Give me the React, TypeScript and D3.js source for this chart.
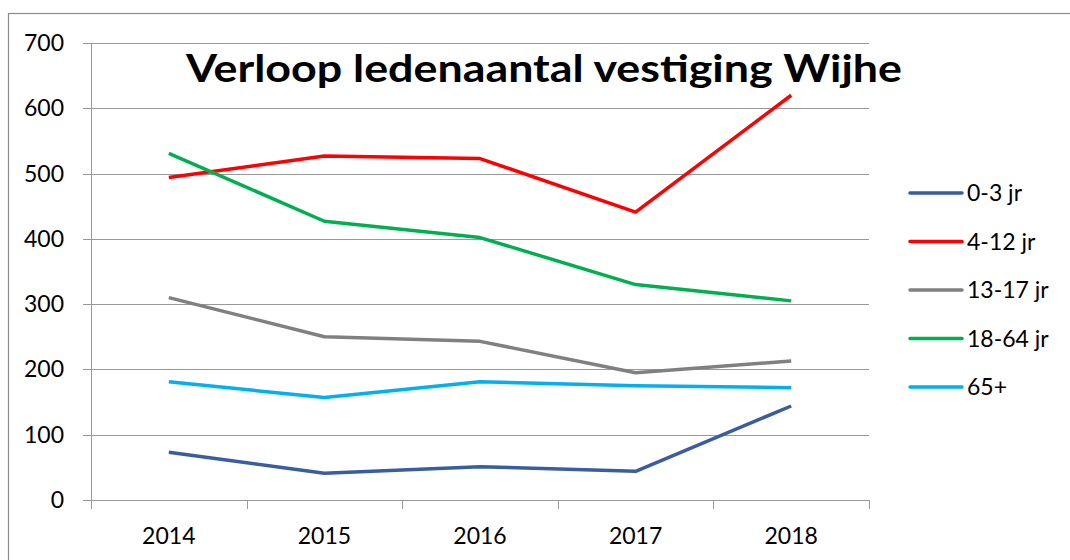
import React, { useEffect, useRef } from 'react';
import * as d3 from 'd3';

const years = ['2014', '2015', '2016', '2017', '2018'];
const yTicks = [0, 100, 200, 300, 400, 500, 600, 700];

const age0to3 = [73, 41, 51, 44, 144];
const age4to12 = [494, 527, 523, 441, 620];
const age13to17 = [310, 250, 243, 195, 213];
const age18to64 = [531, 427, 402, 330, 305];
const age65plus = [181, 157, 181, 175, 172];

const seriesNames = ['0-3 jr', '4-12 jr', '13-17 jr', '18-64 jr', '65+'];
const seriesColors = ['#3a5ca0', '#ff0000', '#808080', '#00b050', '#00b0f0'];

const App = () => {
  const ref = useRef<SVGSVGElement>(null);

  useEffect(() => {
    const svg = d3.select(ref.current);
    svg.selectAll('*').remove();

    const font = 'Lato, "Open Sans", sans-serif';
    const series = [age0to3, age4to12, age13to17, age18to64, age65plus];

    const x = d3.scaleBand().domain(years).range([91, 869]).padding(0);
    const y = d3.scaleLinear().domain([0, 700]).range([500, 43]);

    // outer chart frame
    svg.append('rect')
      .attr('x', 8.5).attr('y', 13.5)
      .attr('width', 1100).attr('height', 600)
      .attr('fill', 'white')
      .attr('stroke', '#8c8c8c')
      .attr('stroke-width', 1.2);

    // gridlines
    svg.append('g')
      .selectAll('line')
      .data(yTicks)
      .join('line')
      .attr('x1', 83).attr('x2', 869)
      .attr('y1', d => Math.round(y(d)) + 0.5)
      .attr('y2', d => Math.round(y(d)) + 0.5)
      .attr('stroke', '#999')
      .attr('stroke-width', 1);

    // y axis line
    svg.append('line')
      .attr('x1', 91.5).attr('x2', 91.5)
      .attr('y1', y(700)).attr('y2', y(0))
      .attr('stroke', '#999');

    // x axis ticks
    const xEdges = years.map(d => x(d) as number).concat([869]);
    svg.append('g')
      .selectAll('line')
      .data(xEdges)
      .join('line')
      .attr('x1', d => Math.round(d) + 0.5).attr('x2', d => Math.round(d) + 0.5)
      .attr('y1', 500).attr('y2', 509)
      .attr('stroke', '#999');

    // y labels
    svg.append('g')
      .selectAll('text')
      .data(yTicks)
      .join('text')
      .attr('x', 64)
      .attr('y', d => y(d) + 8)
      .attr('text-anchor', 'end')
      .style('font-family', font)
      .style('font-size', '23px')
      .attr('fill', '#000')
      .text(d => d);

    // x labels
    svg.append('g')
      .selectAll('text')
      .data(years)
      .join('text')
      .attr('x', d => (x(d) as number) + x.bandwidth() / 2)
      .attr('y', 544)
      .attr('text-anchor', 'middle')
      .style('font-family', font)
      .style('font-size', '23px')
      .attr('fill', '#000')
      .text(d => d);

    // lines
    const line = d3.line<number>()
      .x((_, i) => (x(years[i]) as number) + x.bandwidth() / 2)
      .y(d => y(d));

    series.forEach((s, i) => {
      svg.append('path')
        .datum(s)
        .attr('fill', 'none')
        .attr('stroke', seriesColors[i])
        .attr('stroke-width', 3.5)
        .attr('stroke-linejoin', 'round')
        .attr('d', line);
    });

    // title
    svg.append('text')
      .attr('x', 544)
      .attr('y', 82)
      .attr('text-anchor', 'middle')
      .attr('textLength', 716)
      .attr('lengthAdjust', 'spacingAndGlyphs')
      .style('font-family', font)
      .style('font-size', '38px')
      .style('font-weight', 'bold')
      .attr('fill', '#000')
      .text('Verloop ledenaantal vestiging Wijhe');

    // legend
    const legend = svg.append('g')
      .selectAll('g')
      .data(seriesNames)
      .join('g')
      .attr('transform', (_, i) => `translate(910, ${193 + i * 48.5})`);

    legend.append('line')
      .attr('x1', 0).attr('x2', 52)
      .attr('stroke', (_, i) => seriesColors[i])
      .attr('stroke-width', 3.5)
      .attr('stroke-linecap', 'round');

    legend.append('text')
      .attr('x', 57)
      .attr('y', 8)
      .style('font-family', font)
      .style('font-size', '23px')
      .attr('fill', '#000')
      .text(d => d);
  }, []);

  return (
    <svg
      ref={ref}
      width={1070}
      height={560}
      style={{ position: 'absolute', left: 0, top: 0, background: 'white' }}
    />
  );
};

export default App;
